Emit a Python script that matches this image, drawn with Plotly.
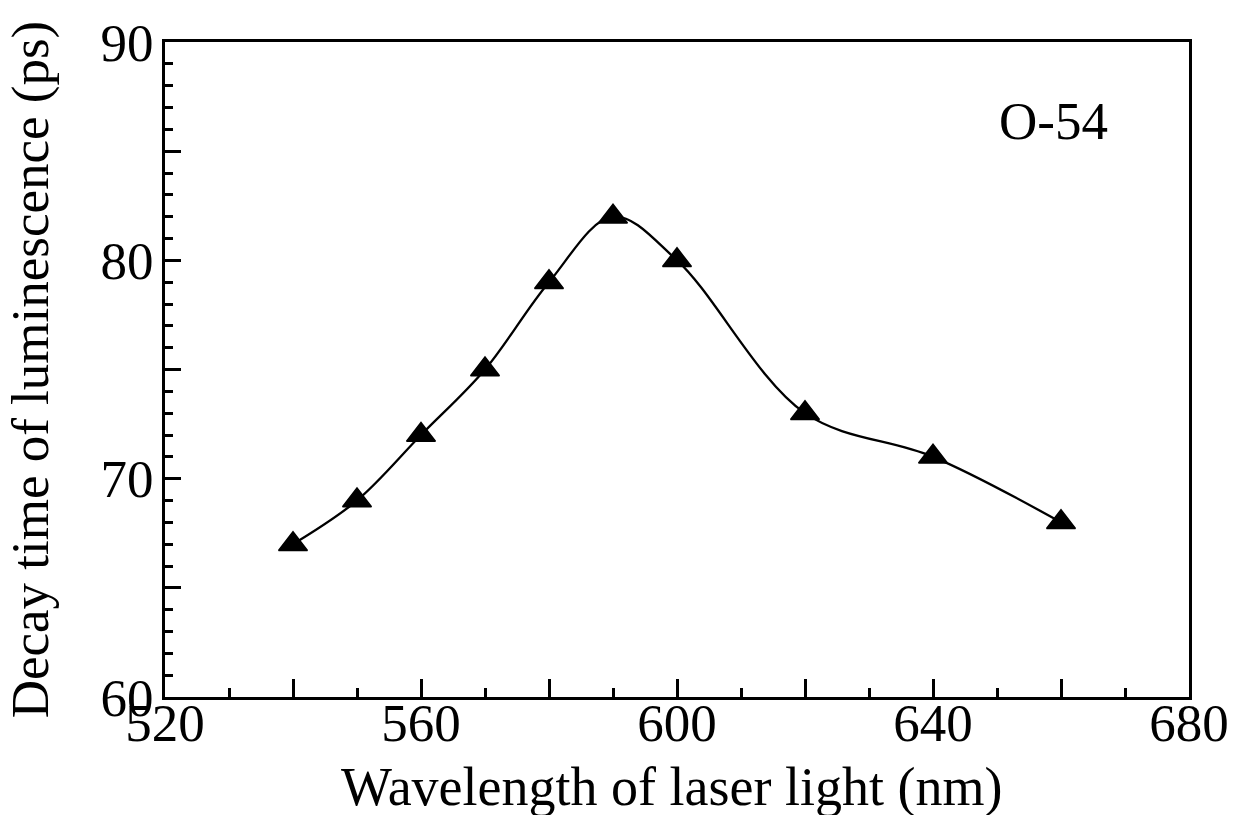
import plotly.graph_objects as go

wavelength = [540, 550, 560, 570, 580, 590, 600, 620, 640, 660]
decay_time = [67.0, 69.0, 72.0, 75.0, 79.0, 82.0, 80.0, 73.0, 71.0, 68.0]

x_tickvals = [520, 540, 560, 580, 600, 620, 640, 660, 680]
x_ticktext = ["520", "", "560", "", "600", "", "640", "", "680"]
y_tickvals = [60, 65, 70, 75, 80, 85, 90]
y_ticktext = ["60", "", "70", "", "80", "", "90"]

FONT = "Liberation Serif, Times New Roman, serif"

fig = go.Figure()
fig.add_trace(go.Scatter(
    x=wavelength, y=decay_time, mode="lines+markers",
    line=dict(color="black", width=2.3, shape="spline", smoothing=1.0),
    marker=dict(symbol="triangle-up", size=25, color="black",
                line=dict(color="black", width=1.5)),
    showlegend=False,
))

axis_common = dict(
    showline=True, linecolor="black", linewidth=3, mirror=True,
    ticks="inside", tickcolor="black", tickwidth=3,
    showgrid=False, zeroline=False, automargin=False,
    tickfont=dict(family=FONT, size=53, color="black"),
)

fig.update_xaxes(
    range=[520, 680], tickmode="array", tickvals=x_tickvals, ticktext=x_ticktext,
    ticklen=18, ticklabelstandoff=-23,
    minor=dict(tickmode="linear", tick0=520, dtick=10, ticklen=9, tickwidth=3,
               ticks="inside", tickcolor="black", showgrid=False),
    **axis_common,
)
fig.update_yaxes(
    range=[60, 90], tickmode="array", tickvals=y_tickvals, ticktext=y_ticktext,
    ticklen=16, ticklabelstandoff=-2,
    minor=dict(tickmode="linear", tick0=60, dtick=1, ticklen=8, tickwidth=3,
               ticks="inside", tickcolor="black", showgrid=False),
    **axis_common,
)

fig.add_annotation(
    x=0.495, y=-0.088, xref="paper", yref="paper", text="Wavelength of laser light (nm)",
    showarrow=False, xanchor="center", yanchor="top",
    font=dict(family=FONT, size=54, color="black"),
)
fig.add_annotation(
    x=-0.131, y=0.5, xref="paper", yref="paper", text="Decay time of luminescence (ps)",
    showarrow=False, xanchor="center", yanchor="middle", textangle=-90,
    font=dict(family=FONT, size=53, color="black"),
)
fig.add_annotation(
    x=0.868, y=0.879, xref="paper", yref="paper", text="O-54", showarrow=False,
    xanchor="center", yanchor="middle",
    font=dict(family=FONT, size=53, color="black"),
)

fig.update_layout(
    width=1225, height=807,
    margin=dict(l=157, r=44, t=34, b=118),
    paper_bgcolor="white", plot_bgcolor="white",
)

fig.write_html("out.html")
